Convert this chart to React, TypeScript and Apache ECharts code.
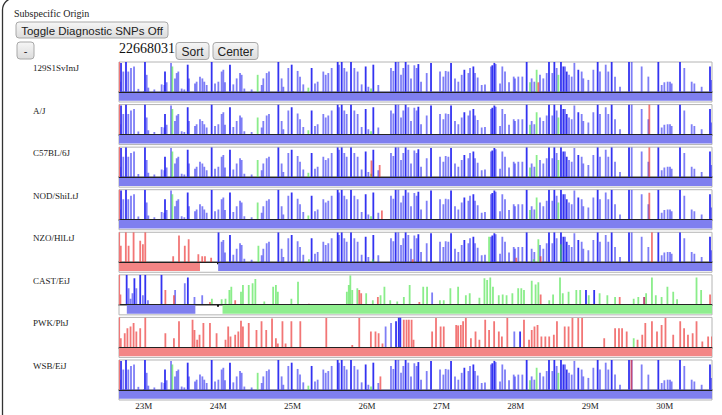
import React, { useEffect, useRef } from "react";
import * as echarts from "echarts";

// ---------- data ----------
const X_MIN = 22.668031;
const X_MAX = 30.635;
const positionLabel = "22668031";
const tickMb = [23, 24, 25, 26, 27, 28, 29, 30];
const strains = ["129S1SvImJ", "A/J", "C57BL/6J", "NOD/ShiLtJ", "NZO/HlLtJ", "CAST/EiJ", "PWK/PhJ", "WSB/EiJ"];

// [position Mb, relative height, dense flag]
const domSpikes = [
  [22.686,0.34,0],[22.695,0.97,1],[22.726,0.68,0],[22.762,1.0,1],[22.793,0.68,0],[22.829,0.8,0],[22.870,0.85,0],[22.928,0.1,0],
  [23.017,1.0,1],[23.040,0.57,0],[23.062,0.14,0],[23.143,0.08,0],[23.241,0.25,0],[23.277,0.23,0],[23.286,0.68,1],[23.308,0.32,0],
  [23.367,0.97,0],[23.420,0.45,0],[23.443,0.63,0],[23.465,0.68,0],[23.510,0.11,0],[23.546,0.08,0],[23.591,0.91,1],[23.608,0.45,0],
  [23.689,0.28,0],[23.711,0.34,0],[23.756,0.51,0],[23.788,0.45,0],[23.814,0.34,0],[23.846,0.23,0],[23.913,1.0,1],[23.958,0.28,0],
  [24.003,0.34,0],[24.047,0.68,0],[24.070,0.74,0],[24.092,0.32,0],[24.159,0.91,1],[24.204,0.25,0],[24.249,0.45,0],[24.294,0.63,0],
  [24.316,0.57,0],[24.352,0.11,0],[24.450,0.08,0],[24.585,0.23,0],[24.607,0.45,0],[24.652,0.63,0],[24.683,0.68,0],[24.809,1.0,1],
  [24.853,0.45,0],[24.876,0.17,0],[24.943,0.8,0],[24.988,0.91,1],[25.068,0.7,0],[25.100,0.51,0],[25.144,0.25,0],[25.256,0.8,1],
  [25.301,0.28,0],[25.337,0.34,0],[25.413,0.68,0],[25.445,0.57,0],[25.480,0.63,0],[25.525,0.8,0],[25.606,1.0,1],[25.624,0.91,0],
  [25.660,1.0,1],[25.695,0.8,0],[25.727,0.68,0],[25.785,1.0,1],[25.830,0.8,0],[25.874,0.68,0],[25.928,0.25,0],[25.982,0.85,1],
  [26.018,0.17,0],[26.085,0.91,1],[26.152,0.23,0],[26.322,0.8,0],[26.354,0.7,0],[26.385,1.0,1],[26.421,1.0,0],[26.457,0.57,0],
  [26.488,0.8,0],[26.519,1.0,1],[26.555,0.91,0],[26.591,0.45,0],[26.636,0.89,0],[26.667,0.8,0],[26.690,0.93,1],[26.726,0.34,0],
  [26.802,0.63,0],[26.860,0.97,1],[26.981,0.68,0],[27.026,0.51,0],[27.057,0.7,0],[27.093,0.68,0],[27.129,0.97,1],[27.182,0.45,0],
  [27.227,0.34,0],[27.272,0.57,0],[27.308,0.74,1],[27.362,0.63,0],[27.384,0.8,0],[27.429,0.85,1],[27.451,0.63,0],[27.487,0.48,0],
  [27.541,0.23,0],[27.585,0.25,0],[27.666,0.85,0],[27.684,0.89,1],[27.711,0.97,1],[27.729,0.93,0],[27.787,0.28,0],[27.818,0.85,0],
  [27.854,0.68,0],[27.908,0.32,0],[27.971,0.51,0],[27.988,0.45,0],[28.033,0.51,0],[28.087,0.51,0],[28.145,1.0,1],[28.212,0.45,0],
  [28.248,0.34,0],[28.324,0.57,0],[28.369,0.45,0],[28.414,0.63,0],[28.445,1.0,1],[28.490,0.63,0],[28.517,1.0,1],[28.548,0.8,0],
  [28.606,1.0,1],[28.638,0.85,1],[28.660,0.85,0],[28.683,0.68,1],[28.714,0.57,0],[28.750,0.51,0],[28.786,0.97,0],[28.839,0.74,1],
  [28.884,0.68,0],[28.906,0.45,0],[28.974,0.4,0],[29.041,0.74,0],[29.099,1.0,1],[29.130,0.68,0],[29.207,0.91,0],[29.242,0.68,0],
  [29.287,1.0,1],[29.332,0.51,0],[29.399,0.17,0],[29.520,1.0,1],[29.556,1.0,0],[29.690,0.85,0],[29.780,0.51,0],[29.914,1.0,1],
  [29.959,0.23,0],[29.995,0.32,0],[30.039,0.34,0],[30.071,0.34,0],[30.093,0.28,0],[30.205,1.0,1],[30.263,0.8,0],[30.362,0.34,0],
  [30.398,0.28,0],[30.496,0.17,0],[30.608,0.85,1],[30.631,0.4,0],
];
const domGreen = [[23.385,0.85],[24.531,0.57],[25.212,0.14],[26.054,0.11],[28.190,0.32],[28.279,0.74],[28.571,0.57]];

const red129 = [[28.302,0.32]];
const redAJ = [[29.793,1.0]];
const redB6 = [[26.06,0.55],[26.17,0.4],[29.793,1.0]];
const redNOD = [[26.20,0.3],[29.793,0.9]];
const redWSB = [[26.18,0.45],[29.553,1.0]];

const nzoRed = [
  [22.692,0.55],[22.760,1.0],[22.797,0.55],[22.864,1.0],[22.953,0.72],[22.989,0.6],[23.021,1.0],[23.396,0.2],[23.474,0.89],
  [23.552,0.55],[23.604,0.77],[23.734,0.26],[23.786,0.2],[23.823,0.2],[23.906,0.15],[26.614,0.1],[28.005,0.15],[28.333,0.2],[29.828,1.0],
];
const nzoGreen = [[24.541,0.55],[25.219,0.1],[26.078,0.1],[27.640,0.85],[28.240,0.1],[28.302,0.77],[28.604,0.6]];
const nzoBlue = [[24.005,1.0,1], ...domSpikes.filter((s) => s[0] >= 24.02)];

const castBlue = [
  [22.771,1.0,1],[22.797,0.55,0],[22.823,0.2,0],[22.849,0.38,0],[22.875,0.89,1],[22.901,0.55,0],[22.953,1.0,1],[22.989,0.32,0],
  [23.021,1.0,1],[23.057,0.15,0],[23.239,1.0,1],[23.422,0.49,0],[23.552,0.72,0],[23.593,0.91,1],[23.682,0.26,0],[23.786,0.32,0],
  [26.875,0.41,0],[28.942,0.49,1],[29.052,0.49,1],[29.724,0.26,0],
];
const castRed = [
  [22.687,0.34],[23.291,0.49],[23.406,0.32],[23.890,0.09],[24.229,0.15],[25.219,0.03],[25.896,0.49],[25.922,0.38],[26.146,0.26],
  [26.703,0.09],[28.333,0.34],[29.395,0.26],[29.724,0.26],[30.609,0.34],
];
const castGreen = [
  [23.916,0.2],[24.047,0.18],[24.099,0.2],[24.151,0.49],[24.177,0.6],[24.307,0.43],[24.333,0.66],[24.411,0.66],[24.463,0.72],
  [24.500,0.86],[24.620,0.11],[24.739,0.6],[24.776,0.66],[24.802,0.43],[24.984,0.2],[25.073,0.77],[25.729,0.43],[25.755,0.66],
  [25.776,0.98],[25.802,0.49],[25.870,0.55],[25.989,0.38],[26.078,0.15],[26.182,0.32],[26.234,0.6],[26.312,0.15],[26.406,0.11],
  [26.495,0.26],[26.573,0.66],[26.755,0.6],[26.807,0.6],[26.979,0.15],[27.031,0.15],[27.120,0.55],[27.224,0.6],[27.328,0.32],
  [27.380,0.38],[27.510,0.23],[27.578,0.89],[27.614,0.83],[27.656,0.91],[27.692,0.6],[27.770,0.32],[27.823,0.34],[27.875,0.32],
  [27.953,0.38],[28.031,0.55],[28.073,0.55],[28.109,0.49],[28.213,0.8],[28.265,0.68],[28.302,0.75],[28.448,0.15],[28.500,0.34],
  [28.593,0.91],[28.630,0.38],[28.708,0.43],[28.812,0.49],[28.864,0.49],[28.979,0.32],[29.125,0.38],[29.229,0.32],[29.333,0.26],
  [29.583,0.2],[29.645,0.26],[29.750,0.38],[29.828,0.91],[29.880,0.32],[29.958,0.26],[30.036,0.6],[30.114,0.43],[30.166,0.18],
  [30.427,0.91],[30.489,0.49],
];

const pwkRed = [
  [22.692,0.3],[22.745,0.47],[22.781,0.64],[22.823,0.7],[22.864,0.81],[22.901,0.53],[22.953,0.64],[23.021,1.0],[23.291,0.47],
  [23.406,0.3],[23.474,0.87],[23.656,0.92],[23.682,0.58],[23.718,0.25],[23.750,0.42],[23.802,0.81],[23.890,0.81],[23.979,0.47],
  [24.099,0.25],[24.135,0.7],[24.166,0.36],[24.229,0.42],[24.271,0.53],[24.307,0.89],[24.333,0.7],[24.411,0.81],[24.515,0.58],
  [24.583,0.87],[24.646,0.58],[24.724,0.96],[24.776,0.3],[24.802,0.13],[24.864,0.87],[24.906,0.13],[24.984,0.87],[25.104,0.87],
  [25.453,0.98],[25.802,0.08],[25.896,0.98],[26.052,0.53],[26.114,0.53],[26.156,0.47],[26.208,0.13],[26.494,0.92],[26.531,0.92],
  [26.562,0.92],[26.599,0.92],[26.625,0.25],[26.875,0.53],[26.927,0.98],[26.989,0.7],[27.031,0.7],[27.198,0.75],[27.224,0.73],
  [27.260,0.75],[27.291,0.87],[27.328,0.98],[27.396,0.3],[27.458,0.53],[27.510,0.25],[27.588,0.92],[27.640,0.58],[27.708,0.87],
  [27.771,0.53],[27.812,0.36],[27.885,0.98],[28.109,0.92],[28.177,0.25],[28.213,0.58],[28.250,0.7],[28.291,0.75],[28.343,0.36],
  [28.396,0.36],[28.448,0.36],[28.510,0.42],[28.552,0.87],[28.656,0.7],[28.708,0.7],[28.760,0.98],[28.838,0.98],[28.890,0.98],
  [29.187,0.3],[29.333,0.64],[29.385,0.64],[29.427,0.64],[29.489,0.53],[29.635,0.25],[29.698,0.42],[29.739,0.81],[29.828,0.87],
  [29.896,0.53],[29.958,0.75],[30.010,0.98],[30.114,0.42],[30.208,0.87],[30.260,0.64],[30.312,0.42],[30.375,0.47],[30.427,0.87],
  [30.505,0.19],[30.583,0.36],[30.635,0.36],
];
const pwkBlue = [[26.250,0.7,0],[26.323,0.81,0],[26.390,0.87,1],[26.427,1.0,1],[26.448,1.0,1],[27.979,0.53,0],[28.057,0.53,1]];
const pwkGreen = [[29.583,0.3]];

// subspecific origin segments [start Mb, end Mb, origin]
const domBand = [[X_MIN, X_MAX, "dom"]];
const nzoBand = [[X_MIN, 23.756, "mus"], [24.0, X_MAX, "dom"]];
const castBand = [[22.773, 23.694, "dom"], [24.059, X_MAX, "cas"]];
const pwkBand = [[X_MIN, X_MAX, "mus"]];

const tracks = [
  { blue: domSpikes, red: red129, green: domGreen, band: domBand },
  { blue: domSpikes, red: redAJ, green: domGreen, band: domBand },
  { blue: domSpikes, red: redB6, green: domGreen, band: domBand },
  { blue: domSpikes, red: redNOD, green: domGreen, band: domBand },
  { blue: nzoBlue, red: nzoRed, green: nzoGreen, band: nzoBand },
  { blue: castBlue, red: castRed, green: castGreen, band: castBand },
  { blue: pwkBlue, red: pwkRed, green: pwkGreen, band: pwkBand },
  { blue: domSpikes, red: redWSB, green: domGreen, band: domBand },
];

// ---------- style ----------
const bandColors: Record<string, string> = { dom: "#7f7fef", mus: "#f38585", cas: "#8fee8f" };
const TRACK_TOP = 62;
const TRACK_STEP = 42.57;
const TRACK_H = 40;
const Y_MIN = -0.34;
const BAND_LOW = -0.3;
const SERIF = "'Liberation Serif', 'Times New Roman', serif";
const SANS = "'Liberation Sans', Arial, sans-serif";

function spikeRender(rgb: string, lightA: number, darkA: number) {
  return (params: any, api: any) => {
    const x = api.value(0);
    const h = api.value(1);
    const d = api.value(2);
    const b = api.coord([x, 0]);
    const t = api.coord([x, h]);
    return {
      type: "rect",
      shape: { x: b[0] - 0.9, y: t[1], width: 1.8, height: b[1] - t[1] },
      style: { fill: `rgba(${rgb},${d === 1 ? darkA : lightA})` },
    };
  };
}

function bandRender(params: any, api: any) {
  const a = api.coord([api.value(0), 0]);
  const b = api.coord([api.value(1), BAND_LOW]);
  return {
    type: "rect",
    shape: { x: a[0], y: a[1], width: b[0] - a[0], height: b[1] - a[1] },
    style: { fill: api.visual("color") },
  };
}

function button(x: number, y: number, w: number, h: number, label: string, size: number) {
  return {
    type: "group",
    children: [
      {
        type: "rect",
        shape: { x, y, width: w, height: h, r: 3 },
        style: {
          fill: new echarts.graphic.LinearGradient(0, 0, 0, 1, [
            { offset: 0, color: "#f6f6f6" },
            { offset: 1, color: "#dcdcdc" },
          ]),
          stroke: "#a8a8a8",
          lineWidth: 1,
        },
      },
      {
        type: "text",
        x: x + w / 2,
        y: y + h / 2 + 0.5,
        style: { text: label, fill: "#222", font: `${size}px ${SANS}`, align: "center", verticalAlign: "middle" },
      },
    ],
  };
}

export default function App() {
  const ref = useRef<HTMLDivElement>(null);
  useEffect(() => {
    if (!ref.current) return;
    const chart = echarts.init(ref.current, null, { renderer: "svg" });
    const grids: any[] = [];
    const xAxes: any[] = [];
    const yAxes: any[] = [];
    const series: any[] = [];
    const graphics: any[] = [];

    tracks.forEach((tr, i) => {
      const top = TRACK_TOP + TRACK_STEP * i;
      const last = i === tracks.length - 1;
      grids.push({
        left: 119, width: 593, top, height: TRACK_H,
        show: true, borderColor: "#b4b4b4", borderWidth: 1, backgroundColor: "#fff",
      });
      xAxes.push({
        type: "value", gridIndex: i, min: X_MIN, max: X_MAX, position: "bottom",
        axisLine: { show: true, lineStyle: { color: "#9c9c9c", width: 2 } },
        axisTick: { show: true, customValues: tickMb, length: 2, lineStyle: { color: "#111", width: 2 } },
        axisLabel: {
          show: last, customValues: tickMb, formatter: (v: number) => `${v}M`,
          fontFamily: SERIF, fontSize: 9, color: "#222", margin: 2,
        },
        splitLine: { show: false },
      });
      yAxes.push({ type: "value", gridIndex: i, min: Y_MIN, max: 1, show: false, splitLine: { show: false } });

      series.push({
        type: "custom", xAxisIndex: i, yAxisIndex: i, renderItem: bandRender, clip: true,
        data: tr.band.map((s) => ({ value: [s[0], s[1]], itemStyle: { color: bandColors[s[2] as string] } })),
        markLine: {
          silent: true, symbol: ["none", "none"], label: { show: false },
          lineStyle: { color: "#222", width: 1, type: "solid" },
          data: [
            { yAxis: 0 },
            [{ coord: [X_MIN, 0], lineStyle: { color: "#f07878", width: 1.2, type: "solid" } }, { coord: [X_MIN, 1] }],
          ],
        },
      });
      series.push({ type: "custom", xAxisIndex: i, yAxisIndex: i, clip: true, renderItem: spikeRender("40,40,240", 0.6, 0.95), data: tr.blue });
      series.push({ type: "custom", xAxisIndex: i, yAxisIndex: i, clip: true, renderItem: spikeRender("60,225,60", 0.6, 0.9), data: tr.green });
      series.push({ type: "custom", xAxisIndex: i, yAxisIndex: i, clip: true, renderItem: spikeRender("235,45,45", 0.65, 0.9), data: tr.red });

      graphics.push({
        type: "text", x: 33, y: top + 6,
        style: { text: strains[i], fill: "#222", font: `9px ${SERIF}`, verticalAlign: "middle" },
      });
    });

    graphics.push({
      type: "rect", shape: { x: 2.5, y: -2, width: 800, height: 600, r: 12 },
      style: { fill: "none", stroke: "#333", lineWidth: 1.3 }, silent: true,
    });
    graphics.push({
      type: "text", x: 14, y: 13,
      style: { text: "Subspecific Origin", fill: "#222", font: `10px ${SERIF}`, verticalAlign: "middle" },
    });
    graphics.push(button(16, 22, 152, 16, "Toggle Diagnostic SNPs Off", 11.5));
    graphics.push(button(17, 42, 17, 17, "-", 11));
    graphics.push({
      type: "text", x: 119, y: 48.5,
      style: { text: positionLabel, fill: "#111", font: `14px ${SERIF}`, verticalAlign: "middle" },
    });
    graphics.push(button(176, 42.5, 33, 17, "Sort", 12));
    graphics.push(button(213, 42.5, 45, 17, "Center", 12));

    chart.setOption({
      animation: false,
      backgroundColor: "#fff",
      grid: grids,
      xAxis: xAxes,
      yAxis: yAxes,
      series,
      graphic: graphics,
    });
    return () => chart.dispose();
  }, []);
  return <div ref={ref} style={{ position: "fixed", left: 0, top: 0, width: 722, height: 415 }} />;
}
